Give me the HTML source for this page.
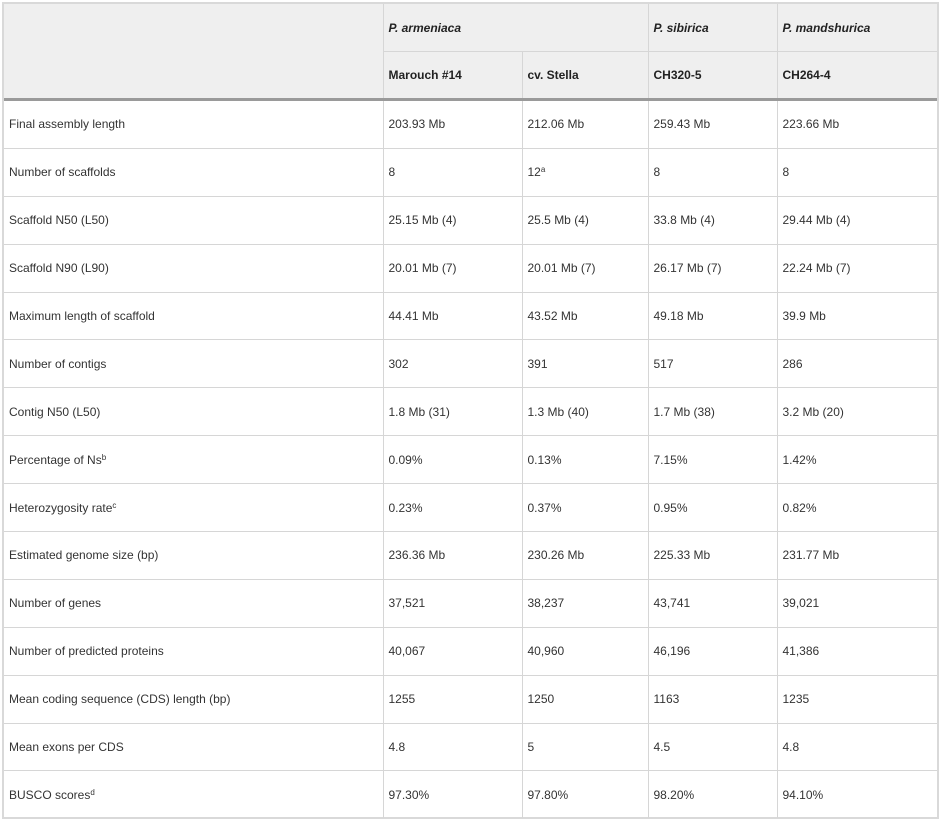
<!DOCTYPE html>
<html><head><meta charset="utf-8"><style>
body{margin:0;background:#fff;width:941px;height:821px;overflow:hidden;font-family:"Liberation Sans",sans-serif;}
.wrap{position:absolute;left:2px;top:2px;width:937px;height:817px;box-sizing:border-box;border:2px solid #d9d9d9;}
table{border-collapse:collapse;table-layout:fixed;width:933px;font-size:12px;color:#333;}
td,th{border:1px solid #d6d6d6;padding:0 0 0 5px;text-align:left;vertical-align:middle;white-space:nowrap;overflow:hidden;}
thead th{background:#efefef;font-weight:bold;color:#222;height:47px;}
thead tr.r2 th{border-bottom:3px solid #9a9a9a;height:46px;}
tbody td{height:46.9px;}
tbody tr:first-child td{border-top:none;}
table tr td:first-child, table tr th:first-child{border-left:none;}
table tr td:last-child, table tr th:last-child{border-right:none;}
thead tr:first-child th{border-top:none;}
tbody tr:last-child td{border-bottom:none;}
sup{font-size:8px;vertical-align:4px;line-height:0;}
i{font-style:italic;}
</style></head><body>
<div class="wrap">
<table>
<colgroup><col style="width:379px"><col style="width:139px"><col style="width:126px"><col style="width:129px"><col style="width:160px"></colgroup>
<thead>
<tr><th rowspan="2" style="border-bottom:3px solid #9a9a9a"></th><th colspan="2"><i>P. armeniaca</i></th><th><i>P. sibirica</i></th><th><i>P. mandshurica</i></th></tr>
<tr class="r2"><th>Marouch #14</th><th>cv. Stella</th><th>CH320-5</th><th>CH264-4</th></tr>
</thead>
<tbody>
<tr><td>Final assembly length</td><td>203.93 Mb</td><td>212.06 Mb</td><td>259.43 Mb</td><td>223.66 Mb</td></tr>
<tr><td>Number of scaffolds</td><td>8</td><td>12<sup>a</sup></td><td>8</td><td>8</td></tr>
<tr><td>Scaffold N50 (L50)</td><td>25.15 Mb (4)</td><td>25.5 Mb (4)</td><td>33.8 Mb (4)</td><td>29.44 Mb (4)</td></tr>
<tr><td>Scaffold N90 (L90)</td><td>20.01 Mb (7)</td><td>20.01 Mb (7)</td><td>26.17 Mb (7)</td><td>22.24 Mb (7)</td></tr>
<tr><td>Maximum length of scaffold</td><td>44.41 Mb</td><td>43.52 Mb</td><td>49.18 Mb</td><td>39.9 Mb</td></tr>
<tr><td>Number of contigs</td><td>302</td><td>391</td><td>517</td><td>286</td></tr>
<tr><td>Contig N50 (L50)</td><td>1.8 Mb (31)</td><td>1.3 Mb (40)</td><td>1.7 Mb (38)</td><td>3.2 Mb (20)</td></tr>
<tr><td>Percentage of Ns<sup>b</sup></td><td>0.09%</td><td>0.13%</td><td>7.15%</td><td>1.42%</td></tr>
<tr><td>Heterozygosity rate<sup>c</sup></td><td>0.23%</td><td>0.37%</td><td>0.95%</td><td>0.82%</td></tr>
<tr><td>Estimated genome size (bp)</td><td>236.36 Mb</td><td>230.26 Mb</td><td>225.33 Mb</td><td>231.77 Mb</td></tr>
<tr><td>Number of genes</td><td>37,521</td><td>38,237</td><td>43,741</td><td>39,021</td></tr>
<tr><td>Number of predicted proteins</td><td>40,067</td><td>40,960</td><td>46,196</td><td>41,386</td></tr>
<tr><td>Mean coding sequence (CDS) length (bp)</td><td>1255</td><td>1250</td><td>1163</td><td>1235</td></tr>
<tr><td>Mean exons per CDS</td><td>4.8</td><td>5</td><td>4.5</td><td>4.8</td></tr>
<tr><td>BUSCO scores<sup>d</sup></td><td>97.30%</td><td>97.80%</td><td>98.20%</td><td>94.10%</td></tr>
</tbody>
</table>
</div>
</body></html>
